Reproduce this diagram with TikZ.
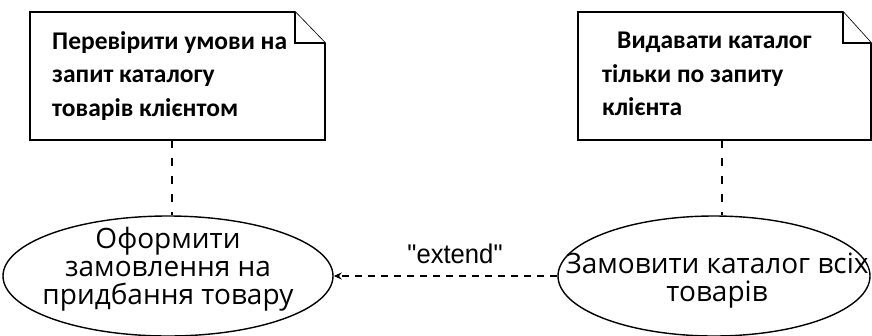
\documentclass[tikz,border=0pt]{standalone}
\usepackage{fontspec}
\usepackage{graphicx}
\setmainfont{Carlito}
\newfontfamily\arialfont{Liberation Sans}
\newfontfamily\ucfont{Open Sans}
\usetikzlibrary{shapes.geometric,arrows.meta}
\tikzset{
  notebox/.style={draw=black,line width=1.6pt,fill=white,line join=miter},
  notetext/.style={anchor=north west,align=left,inner sep=0pt,font=\fontsize{25.5}{33.5}\selectfont\bfseries},
  usecase/.style={draw=black,ellipse,line width=1.4pt,inner sep=0pt},
  uctext/.style={align=center,inner sep=0pt,font=\ucfont\fontsize{28}{28}\selectfont},
  anchorline/.style={line width=2.2pt,dash pattern=on 8pt off 10pt},
  extendline/.style={line width=2pt,dash pattern=on 7pt off 6pt,-{Stealth[length=8pt,width=7pt]}},
}
\begin{document}
\begin{tikzpicture}[x=1pt,y=-1pt]
\useasboundingbox (0,0) rectangle (872,335);
% note 1
\coordinate (n1a) at (30,12);
\coordinate (n1b) at (295,12);
\coordinate (n1c) at (325,43);
\coordinate (n1d) at (325,140);
\coordinate (n1e) at (30,140);
\coordinate (n1f) at (295,43);
\draw[notebox] (n1a) -- (n1b) -- (n1c) -- (n1d) -- (n1e) -- cycle;
\draw[notebox] (n1b) -- (n1f) -- (n1c);
\node[notetext] (t1) at (52,31) {Перевірити умови на\\запит каталогу\\товарів клієнтом};
% note 2
\coordinate (n2a) at (578,12);
\coordinate (n2b) at (843,12);
\coordinate (n2c) at (871,43);
\coordinate (n2d) at (871,140);
\coordinate (n2e) at (578,140);
\coordinate (n2f) at (843,43);
\draw[notebox] (n2a) -- (n2b) -- (n2c) -- (n2d) -- (n2e) -- cycle;
\draw[notebox] (n2b) -- (n2f) -- (n2c);
\node[notetext] (t2) at (602,32) {\hspace*{15pt}Видавати каталог\\тільки по запиту\\клієнта};
% use cases
\node[usecase,minimum width=330pt,minimum height=120pt] (e1) at (168,276) {};
\node[uctext] (e1t) at (168,269) {Оформити\\замовлення на\\придбання товару};
\node[usecase,minimum width=312pt,minimum height=120pt] (e2) at (714,276) {};
\node[uctext] (e2t) at (717,281) {Замовити каталог всіх\\товарів};
% anchors
\coordinate (a1) at (172,140);
\coordinate (a2) at (722,140);
\draw[anchorline] (a1) -- (a1 |- e1.north);
\draw[anchorline] (a2) -- (a2 |- e2.north);
% extend
\draw[extendline] (e2.west) -- (e1.east);
\node[anchor=base,inner sep=0pt,font=\arialfont\fontsize{27}{27}\selectfont] (lbl) at (455,263) {\scalebox{0.95}[1]{"extend"}};
\end{tikzpicture}
\end{document}
